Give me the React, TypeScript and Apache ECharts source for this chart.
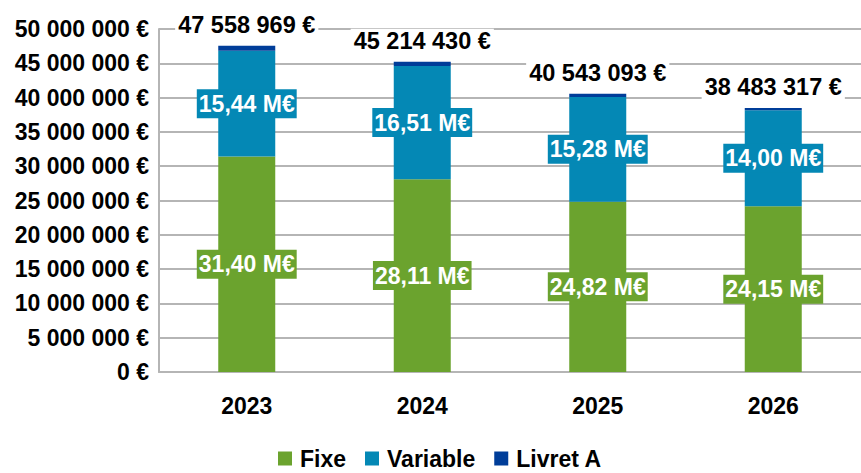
import React, { useEffect, useRef } from "react";
import * as echarts from "echarts";

const categories = ["2023", "2024", "2025", "2026"];
const fixe = [31400000, 28110000, 24820000, 24150000];
const variable = [15440000, 16510000, 15280000, 14000000];
const livretA = [718969, 594430, 443093, 333317];
const totals = [47558969, 45214430, 40543093, 38483317];

const FONT = "'Liberation Sans', Arial, sans-serif";
const GREEN = "#6ba32e";
const BLUE = "#0488b5";
const DARK = "#003d99";
const GRID = "#b5b5b5";

const euro = (n: number) =>
  Math.round(n).toString().replace(/\B(?=(\d{3})+(?!\d))/g, " ") + " €";
const meur = (n: number) => (n / 1e6).toFixed(2).replace(".", ",") + " M€";

export default function App() {
  const ref = useRef<HTMLDivElement>(null);
  useEffect(() => {
    if (!ref.current) return;
    const chart = echarts.init(ref.current, undefined, { renderer: "svg" });
    const inner = (color: string) => ({
      show: true,
      position: "inside",
      formatter: (p: any) => meur(p.value),
      color: "#fff",
      fontFamily: FONT,
      fontWeight: "bold",
      fontSize: 23,
      lineHeight: 25,
      backgroundColor: color,
      padding: [2, 2],
    });
    chart.setOption({
      animation: false,
      grid: { left: 159, right: -13, top: 29, bottom: 101, containLabel: false },
      legend: {
        data: ["Fixe", "Variable", "Livret A"],
        left: 278,
        top: 447,
        padding: 0,
        itemWidth: 14,
        itemHeight: 14,
        itemGap: 19,
        icon: "rect",
        textStyle: {
          fontFamily: FONT,
          fontWeight: "bold",
          fontSize: 23,
          lineHeight: 23,
          color: "#000",
          padding: [0, 0, 0, 3],
        },
      },
      xAxis: {
        type: "category",
        data: categories,
        axisLine: { show: true, lineStyle: { color: GRID, width: 2 } },
        axisTick: { show: false },
        axisLabel: {
          fontFamily: FONT,
          fontWeight: "bold",
          fontSize: 23,
          color: "#000",
          margin: 22,
        },
      },
      yAxis: {
        type: "value",
        min: 0,
        max: 50000000,
        interval: 5000000,
        axisLine: { show: true, lineStyle: { color: GRID, width: 2 } },
        axisTick: { show: false },
        splitLine: { show: true, lineStyle: { color: GRID, width: 2 } },
        axisLabel: {
          fontFamily: FONT,
          fontWeight: "bold",
          fontSize: 23,
          color: "#000",
          margin: 10,
          formatter: (v: number) => euro(v),
        },
      },
      series: [
        {
          name: "Fixe",
          type: "bar",
          stack: "t",
          barWidth: 57,
          data: fixe,
          itemStyle: { color: GREEN },
          label: inner(GREEN),
        },
        {
          name: "Variable",
          type: "bar",
          stack: "t",
          barWidth: 57,
          data: variable,
          itemStyle: { color: BLUE },
          label: inner(BLUE),
        },
        {
          name: "Livret A",
          type: "bar",
          stack: "t",
          barWidth: 57,
          data: livretA,
          itemStyle: { color: DARK },
          label: {
            show: true,
            position: "top",
            distance: 9,
            formatter: (p: any) => euro(totals[p.dataIndex]),
            color: "#000",
            fontFamily: FONT,
            fontWeight: "bold",
            fontSize: 23.5,
            lineHeight: 22,
            backgroundColor: "#fff",
            padding: [1, 3],
          },
        },
      ],
    });
    return () => chart.dispose();
  }, []);
  return (
    <div
      ref={ref}
      style={{ position: "absolute", left: 0, top: 0, width: 861, height: 473 }}
    />
  );
}
